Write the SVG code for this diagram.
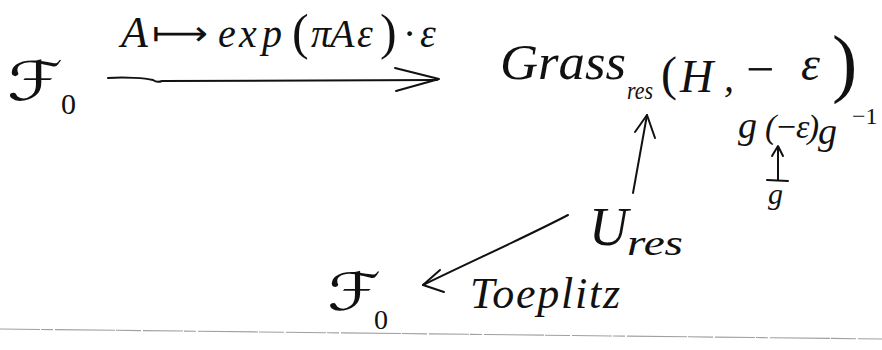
<svg xmlns="http://www.w3.org/2000/svg" width="882" height="350" viewBox="0 0 882 350">
  <style>
    .t { font-family: "Liberation Serif", "DejaVu Serif", serif; font-style: italic; fill: #111; }
    .up { font-style: normal; }
    .scr { font-family: "DejaVu Sans", "Noto Sans", sans-serif; font-style: normal; font-weight: normal; fill: #111; }
    .ink { fill: none; stroke: #111; stroke-width: 2; stroke-linecap: round; stroke-linejoin: round; }
    .edge { fill: none; stroke: #a0a0a0; stroke-width: 1.1; stroke-dasharray: 40 1 12 2 60 1 25 2; }
  </style>
  <rect width="882" height="350" fill="#fff"/>

  <!-- F_0 (source) -->
  <g id="node-F0-top">
    <text class="scr" x="7" y="100" font-size="54" textLength="56" lengthAdjust="spacingAndGlyphs">ℱ</text>
    <text class="t up" x="61" y="114" font-size="30">0</text>
  </g>

  <!-- Grass_res(H, -eps) -->
  <g id="node-grass">
    <text class="t" x="500" y="79" font-size="50" textLength="126" lengthAdjust="spacingAndGlyphs">Grass</text>
    <text class="t" x="627" y="99" font-size="26" textLength="26" lengthAdjust="spacingAndGlyphs">res</text>
    <text class="t up" x="661" y="90" font-size="48">(</text>
    <text class="t" x="680" y="92" font-size="46">H</text>
    <text class="t" x="724" y="91" font-size="40">,</text>
    <text class="t up" x="746" y="86" font-size="50">−</text>
    <text class="t" x="801" y="80" font-size="48">ε</text>
    <text class="t up" x="832" y="88" font-size="76">)</text>
  </g>

  <!-- conjugate g(-eps)g^-1 -->
  <g id="node-conj">
    <text class="t" x="738" y="138" font-size="38">g</text>
    <text class="t" x="765" y="138" font-size="34" textLength="54" lengthAdjust="spacing">(−ε)</text>
    <text class="t" x="818" y="144" font-size="38">g</text>
    <text class="t up" x="852" y="124" font-size="24">−1</text>
  </g>

  <!-- g -->
  <g id="node-g">
    <text class="t" x="768" y="204" font-size="30">g</text>
  </g>

  <!-- U_res -->
  <g id="node-ures">
    <text class="t" x="589" y="245" font-size="54">U</text>
    <text class="t" x="627" y="255" font-size="36" textLength="56" lengthAdjust="spacingAndGlyphs">res</text>
  </g>

  <!-- F_0 (target) -->
  <g id="node-F0-bottom">
    <text class="scr" x="327" y="310" font-size="52" textLength="54" lengthAdjust="spacingAndGlyphs">ℱ</text>
    <text class="t up" x="374" y="329" font-size="28">0</text>
  </g>

  <g id="connectors">
    <!-- F_0 -> Grass -->
    <path class="ink" d="M108,78 C125,77 145,78 153,80 Q157,83 162,81 L437,80"/>
    <path class="ink" d="M395,68 L439,79 L396,91"/>
    <text class="t" x="121" y="47" font-size="44">A</text>
    <text class="scr" x="152" y="45" font-size="34" textLength="56" lengthAdjust="spacingAndGlyphs">⟼</text>
    <text class="t" font-size="40" y="47"><tspan x="218">e</tspan><tspan x="239">x</tspan><tspan x="262">p</tspan><tspan x="292" font-size="50" font-style="normal" dy="2">(</tspan><tspan x="311" dy="-2">π</tspan><tspan x="330">A</tspan><tspan x="357">ε</tspan><tspan x="380" font-size="50" font-style="normal" dy="2">)</tspan><tspan x="404" dy="-2">·</tspan><tspan x="420">ε</tspan></text>

    <!-- U_res -> Grass -->
    <path class="ink" d="M633,193 L647,115"/>
    <path class="ink" d="M635,132 L647,115 L655,138"/>

    <!-- g |-> conjugate -->
    <path class="ink" d="M778,180 L778,148"/>
    <path class="ink" d="M772,156 L778,146 L783,156"/>
    <path class="ink" d="M767,180 L788,181"/>

    <!-- U_res -> F_0 (Toeplitz) -->
    <path class="ink" d="M568,215 C530,235 470,262 423,285"/>
    <path class="ink" d="M440,270 L423,285 L444,292"/>
    <text class="t" x="470" y="308" font-size="44" textLength="150" lengthAdjust="spacing">Toeplitz</text>
  </g>

  <!-- page edge -->
  <path class="edge" d="M0,329 L882,339"/>
</svg>
